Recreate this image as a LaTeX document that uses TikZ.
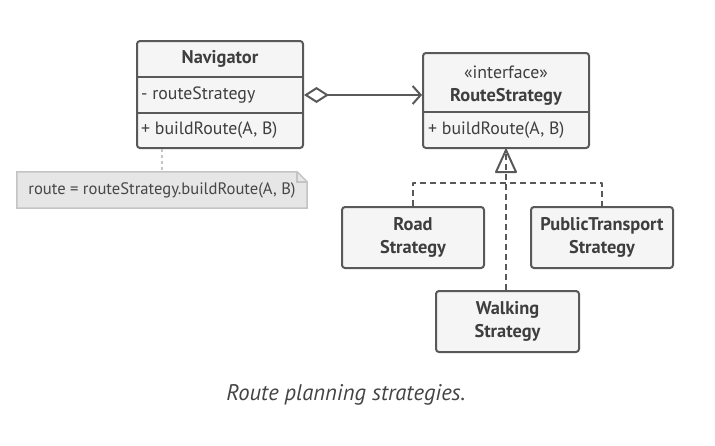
\documentclass[tikz,border=0pt]{standalone}
\usepackage{fontspec}
\setmainfont{PT Sans}
\usetikzlibrary{arrows.meta,positioning,backgrounds}
\definecolor{umlline}{HTML}{595959}
\definecolor{umlfill}{HTML}{F5F5F5}
\definecolor{notefill}{HTML}{E6E6E6}
\definecolor{noteline}{HTML}{C4C4C4}
\definecolor{captext}{HTML}{444444}
\tikzset{
  cls/.style={draw=umlline, fill=umlfill, line width=2pt, rounded corners=3pt, inner sep=0pt},
  sect/.style={inner sep=0pt, text=umlline!70!black, font=\fontsize{17.8}{21}\selectfont},
  clsname/.style={sect, font=\fontsize{18.4}{23.5}\selectfont\bfseries},
  conn/.style={draw=umlline, line width=2pt},
  realize/.style={conn, dash pattern=on 6pt off 4pt},
  notebox/.style={fill=notefill, draw=noteline, line width=1.5pt},
}
\begin{document}
\begin{tikzpicture}[x=1pt,y=-1pt,line cap=butt, line join=round]
  \useasboundingbox (0,0) rectangle (715,445);
  \node[cls, minimum width=166pt, minimum height=107pt] (nav) at (220,94.5) {};
  \draw[conn] (nav.west |- 0,77) -- (nav.east |- 0,77) (nav.west |- 0,113) -- (nav.east |- 0,113);
  \node[clsname] (navname) at (220,59) {Navigator};
  \node[sect, anchor=west] (navattr) at (141,95) {- routeStrategy};
  \node[sect, anchor=west] (navop) at (141,130.5) {+ buildRoute(A, B)};
  \node[cls, minimum width=166pt, minimum height=95pt] (rs) at (506,100.5) {};
  \draw[conn] (rs.west |- 0,112) -- (rs.east |- 0,112);
  \node[sect] (rsstereo) at (506,72) {«interface»};
  \node[clsname] (rsname) at (506,97) {RouteStrategy};
  \node[sect, anchor=west] (rsop) at (428,130.5) {+ buildRoute(A, B)};
  \node[cls, minimum width=142pt, minimum height=61pt, clsname, align=center] (road) at (413,237.5) {Road\\Strategy};
  \node[cls, minimum width=142pt, minimum height=61pt, clsname, align=center] (pt) at (602,237.5) {PublicTransport\\Strategy};
  \node[cls, minimum width=143pt, minimum height=61pt, clsname, align=center] (walk) at (507.5,321.5) {Walking\\Strategy};
  \node[inner sep=0pt, minimum width=290pt, minimum height=36pt, font=\fontsize{16.6}{19}\selectfont, text=umlline!80!black] (note) at (162,190) {route = routeStrategy.buildRoute(A, B)};
  \begin{scope}[on background layer]
    \draw[notebox] (note.south west) -- (note.north west) -- ([xshift=-10pt]note.north east) -- ([yshift=-10pt]note.north east) -- (note.south east) -- cycle;
    \draw[notebox, fill=none] ([xshift=-10pt]note.north east) -- ([xshift=-10pt,yshift=-10pt]note.north east) -- ([yshift=-10pt]note.north east);
  \end{scope}
  \draw[draw=noteline, line width=1.5pt, dash pattern=on 3pt off 3pt] (nav.south -| 162,0) -- (note.north -| 162,0);
  \draw[conn, {Diamond[open, fill=white, length=25pt, width=16pt, line width=2pt]}-{Straight Barb[length=8pt, width=18pt, line width=2pt]}] (nav.east |- navattr) -- (rs.west |- navattr);
  \draw[realize] (walk.north -| rs.south) -- (rs.south);
  \draw[conn] ([yshift=-1pt]rs.south) -- ++(-10,22) -- ++(20,0) -- cycle;
  \draw[realize] (road.north) -- ++(0,-23) -| (pt.north);
  \node[font=\fontsize{22.6}{26}\selectfont\itshape, text=captext] (caption) at (346,395) {Route planning strategies.};
\end{tikzpicture}
\end{document}
